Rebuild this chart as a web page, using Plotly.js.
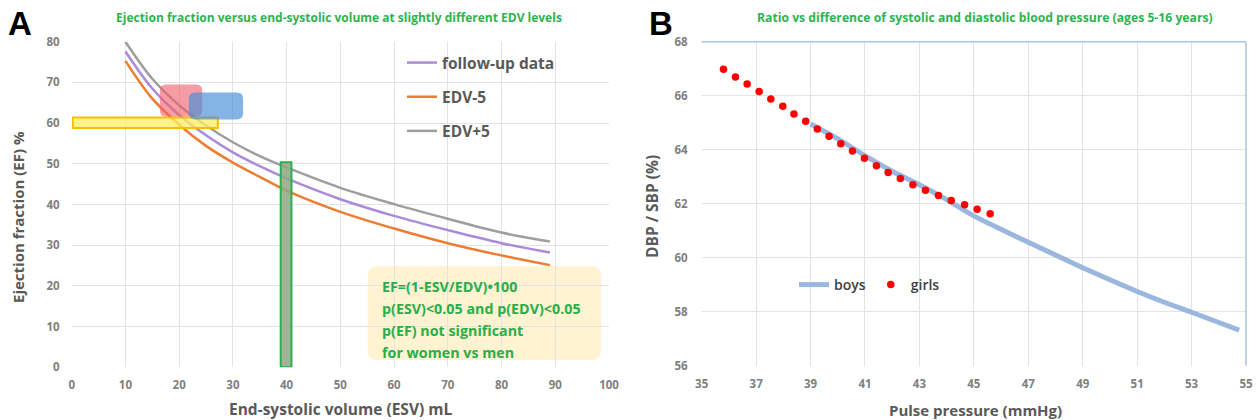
<!DOCTYPE html>
<html><head><meta charset="utf-8">
<script src="https://cdn.plot.ly/plotly-3.0.1.min.js"></script>
<style>html,body{margin:0;padding:0;background:#fff}</style>
</head><body><div id="chart" style="width:1260px;height:420px"></div>
<script>
// ---------- Panel A data ----------
const esv = [10, 15, 20, 25, 30, 35, 40, 50, 60, 70, 80, 89];
const efFollowUp = [77.6, 68.5, 62.0, 57.0, 52.8, 49.4, 46.4, 41.3, 37.2, 33.7, 30.5, 28.2];
const efEdvMinus5 = [75.3, 66.0, 59.6, 54.4, 50.3, 46.8, 43.4, 38.2, 34.1, 30.5, 27.5, 25.1];
const efEdvPlus5 = [80.0, 70.9, 64.4, 59.4, 55.3, 51.9, 49.1, 44.1, 40.1, 36.5, 33.1, 30.9];
const seriesNamesA = ['follow-up data', 'EDV-5', 'EDV+5'];
// highlight boxes: [x0, x1, y0, y1] in data units
const pinkBox = [16.4, 24.3, 61.6, 69.5];
const blueBox = [21.8, 31.9, 60.9, 67.5];
const yellowBar = [0.2, 27.2, 58.8, 61.4];
const greenBar = [38.9, 40.9, 0, 50.4];
const noteBox = [55.1, 98.5, 1.8, 24.8];
const noteLines = ['EF=(1-ESV/EDV)\u2022100', 'p(ESV)<0.05 and p(EDV)<0.05', 'p(EF) not significant', 'for women vs men'];
const titleA = 'Ejection fraction versus end-systolic volume at slightly different EDV levels';
const xTitleA = 'End-systolic volume (ESV) mL';
const yTitleA = 'Ejection fraction (EF) %';

// ---------- Panel B data ----------
const boysPP = [39.0, 40.0, 41.0, 42.0, 43.0, 44.0, 45.0, 46.0, 47.0, 48.0, 49.0, 50.0, 51.0, 52.0, 53.0, 54.0, 54.75];
const boysRatio = [64.95, 64.4, 63.78, 63.2, 62.7, 62.15, 61.55, 61.05, 60.57, 60.1, 59.63, 59.18, 58.75, 58.35, 57.98, 57.6, 57.32];
const girlsPP = [35.8, 36.24, 36.67, 37.11, 37.54, 37.98, 38.39, 38.82, 39.25, 39.68, 40.11, 40.54, 40.98, 41.42, 41.85, 42.3, 42.76, 43.22, 43.7, 44.17, 44.66, 45.12, 45.6];
const girlsRatio = [66.98, 66.69, 66.43, 66.16, 65.88, 65.61, 65.32, 65.05, 64.77, 64.5, 64.22, 63.95, 63.68, 63.41, 63.16, 62.93, 62.7, 62.5, 62.3, 62.12, 61.96, 61.79, 61.63];
const titleB = 'Ratio vs difference of systolic and diastolic blood pressure (ages 5-16 years)';
const xTitleB = 'Pulse pressure (mmHg)';
const yTitleB = 'DBP / SBP (%)';

// ---------- styling ----------
const FONT = '"Open Sans", "Noto Sans", sans-serif';
const GREEN = '#2EB350';
const TICK = {family: FONT, size: 11.5, color: '#7F7F7F', weight: 700};
const GRID = '#E3E3E3';

function rrPath(b, rx, ry) {
  const [x0, x1, y0, y1] = b;
  return `M${x0 + rx},${y0} L${x1 - rx},${y0} Q${x1},${y0} ${x1},${y0 + ry} L${x1},${y1 - ry} Q${x1},${y1} ${x1 - rx},${y1} L${x0 + rx},${y1} Q${x0},${y1} ${x0},${y1 - ry} L${x0},${y0 + ry} Q${x0},${y0} ${x0 + rx},${y0} Z`;
}
function rect(b, fill, lineColor, lw, xref, yref) {
  return {type: 'rect', xref, yref, x0: b[0], x1: b[1], y0: b[2], y1: b[3], fillcolor: fill,
    line: {color: lineColor, width: lw}, layer: 'above'};
}

const traces = [
  {x: esv, y: efFollowUp, name: seriesNamesA[0], type: 'scatter', mode: 'lines', line: {color: '#A98BD9', width: 2.5, shape: 'spline'}, xaxis: 'x', yaxis: 'y', legend: 'legend', legendgroup: 'a1'},
  {x: esv, y: efEdvMinus5, name: seriesNamesA[1], type: 'scatter', mode: 'lines', line: {color: '#ED7D31', width: 2.5, shape: 'spline'}, xaxis: 'x', yaxis: 'y', legend: 'legend', legendgroup: 'a2'},
  {x: esv, y: efEdvPlus5, name: seriesNamesA[2], type: 'scatter', mode: 'lines', line: {color: '#9E9E9E', width: 2.5, shape: 'spline'}, xaxis: 'x', yaxis: 'y', legend: 'legend', legendgroup: 'a3'},
  {x: boysPP, y: boysRatio, name: 'boys', type: 'scatter', mode: 'lines', line: {color: '#9BB7DF', width: 5, shape: 'spline'}, xaxis: 'x2', yaxis: 'y2', legend: 'legend2'},
  {x: girlsPP, y: girlsRatio, name: 'girls', type: 'scatter', mode: 'markers', marker: {color: '#FF0000', size: 7.5}, xaxis: 'x2', yaxis: 'y2', legend: 'legend2'}
];

const shapes = [
  {type: 'path', xref: 'x', yref: 'y', path: rrPath(noteBox, 1.8, 2.4), fillcolor: '#FFF3D2', line: {width: 0}, layer: 'below'},
  rect(yellowBar, 'rgba(255,240,100,0.75)', '#F7BE00', 2, 'x', 'y'),
  {type: 'path', xref: 'x', yref: 'y', path: rrPath(pinkBox, 1.2, 1.5), fillcolor: 'rgba(240,95,110,0.62)', line: {width: 0}, layer: 'above'},
  {type: 'path', xref: 'x', yref: 'y', path: rrPath(blueBox, 1.2, 1.5), fillcolor: 'rgba(75,145,215,0.68)', line: {width: 0}, layer: 'above'},
  rect(greenBar, 'rgba(150,165,130,0.85)', '#2BB04F', 2, 'x', 'y'),
  // panel B frame (top & right)
  {type: 'line', xref: 'x2 domain', yref: 'y2 domain', x0: 0, x1: 1, y0: 1, y1: 1, line: {color: '#A9C3E6', width: 1.5}},
  {type: 'line', xref: 'x2 domain', yref: 'y2 domain', x0: 1, x1: 1, y0: 0, y1: 1, line: {color: '#A9C3E6', width: 1.5}}
];

const annotations = [
  {text: 'A', xref: 'paper', yref: 'paper', x: 20 / 1260, y: 1 - 23 / 420, showarrow: false, xanchor: 'center', yanchor: 'middle', font: {family: 'Liberation Sans, Arial, sans-serif', size: 33, color: '#000', weight: 700}},
  {text: 'B', xref: 'paper', yref: 'paper', x: 661 / 1260, y: 1 - 23 / 420, showarrow: false, xanchor: 'center', yanchor: 'middle', font: {family: 'Liberation Sans, Arial, sans-serif', size: 33, color: '#000', weight: 700}},
  {text: titleA, xref: 'paper', yref: 'paper', x: 339 / 1260, y: 1 - 18 / 420, showarrow: false, xanchor: 'center', yanchor: 'middle', font: {family: FONT, size: 12, color: GREEN, weight: 700}},
  {text: titleB, xref: 'paper', yref: 'paper', x: 985 / 1260, y: 1 - 18 / 420, showarrow: false, xanchor: 'center', yanchor: 'middle', font: {family: FONT, size: 12.2, color: GREEN, weight: 700}},
  {text: xTitleA, xref: 'paper', yref: 'paper', x: 340 / 1260, y: 1 - 409 / 420, showarrow: false, xanchor: 'center', yanchor: 'middle', font: {family: FONT, size: 15.5, color: '#595959', weight: 700}},
  {text: yTitleA, xref: 'paper', yref: 'paper', x: 18 / 1260, y: 1 - 217 / 420, showarrow: false, textangle: -90, xanchor: 'center', yanchor: 'middle', font: {family: FONT, size: 15, color: '#595959', weight: 700}},
  {text: xTitleB, xref: 'paper', yref: 'paper', x: 975 / 1260, y: 1 - 410 / 420, showarrow: false, xanchor: 'center', yanchor: 'middle', font: {family: FONT, size: 15, color: '#595959', weight: 700}},
  {text: yTitleB, xref: 'paper', yref: 'paper', x: 652 / 1260, y: 1 - 207 / 420, showarrow: false, textangle: -90, xanchor: 'center', yanchor: 'middle', font: {family: FONT, size: 15.5, color: '#595959', weight: 700}}
];
noteLines.forEach((t, i) => {
  annotations.push({text: t, xref: 'x', yref: 'y', x: noteBox[0] + 2.2, y: noteBox[3], xanchor: 'left', yanchor: 'middle',
    yshift: -(20 + i * 22.2), showarrow: false, font: {family: FONT, size: 14.3, color: '#2AAE4A', weight: 700}});
});

const layout = {
  width: 1260, height: 420,
  margin: {l: 0, r: 0, t: 0, b: 0},
  paper_bgcolor: '#fff', plot_bgcolor: '#fff',
  xaxis: {domain: [71.7 / 1260, 609 / 1260], range: [0, 100], dtick: 10, tick0: 0, gridcolor: GRID, zeroline: false, showline: false, ticks: '', tickfont: TICK, ticklabelstandoff: 9, fixedrange: true},
  yaxis: {domain: [(420 - 367.3) / 420, (420 - 41.7) / 420], range: [0, 80], dtick: 10, tick0: 0, gridcolor: GRID, zeroline: false, showline: false, ticks: '', tickfont: TICK, ticklabelstandoff: 11, fixedrange: true},
  xaxis2: {domain: [701.7 / 1260, 1246 / 1260], range: [35, 55], dtick: 2, tick0: 35, gridcolor: GRID, zeroline: false, showline: false, ticks: '', tickfont: TICK, ticklabelstandoff: 10, anchor: 'y2', fixedrange: true},
  yaxis2: {domain: [(420 - 365.7) / 420, (420 - 41.7) / 420], range: [56, 68], dtick: 2, tick0: 56, gridcolor: GRID, zeroline: false, showline: false, ticks: '', tickfont: TICK, ticklabelstandoff: 13, anchor: 'x2', fixedrange: true},
  legend: {x: 402 / 1260, y: 1 - 46 / 420, xanchor: 'left', yanchor: 'top', bgcolor: 'rgba(0,0,0,0)', orientation: 'v', tracegroupgap: 11,
    font: {family: FONT, size: 15.5, color: '#595959', weight: 700}},
  legend2: {x: 794 / 1260, y: 1 - 285 / 420, xanchor: 'left', yanchor: 'middle', bgcolor: 'rgba(0,0,0,0)', orientation: 'h',
    font: {family: FONT, size: 14, color: '#404040', weight: 600}},
  showlegend: true,
  shapes, annotations
};

Plotly.newPlot('chart', traces, layout, {displayModeBar: false, staticPlot: true});
</script>
</body></html>
